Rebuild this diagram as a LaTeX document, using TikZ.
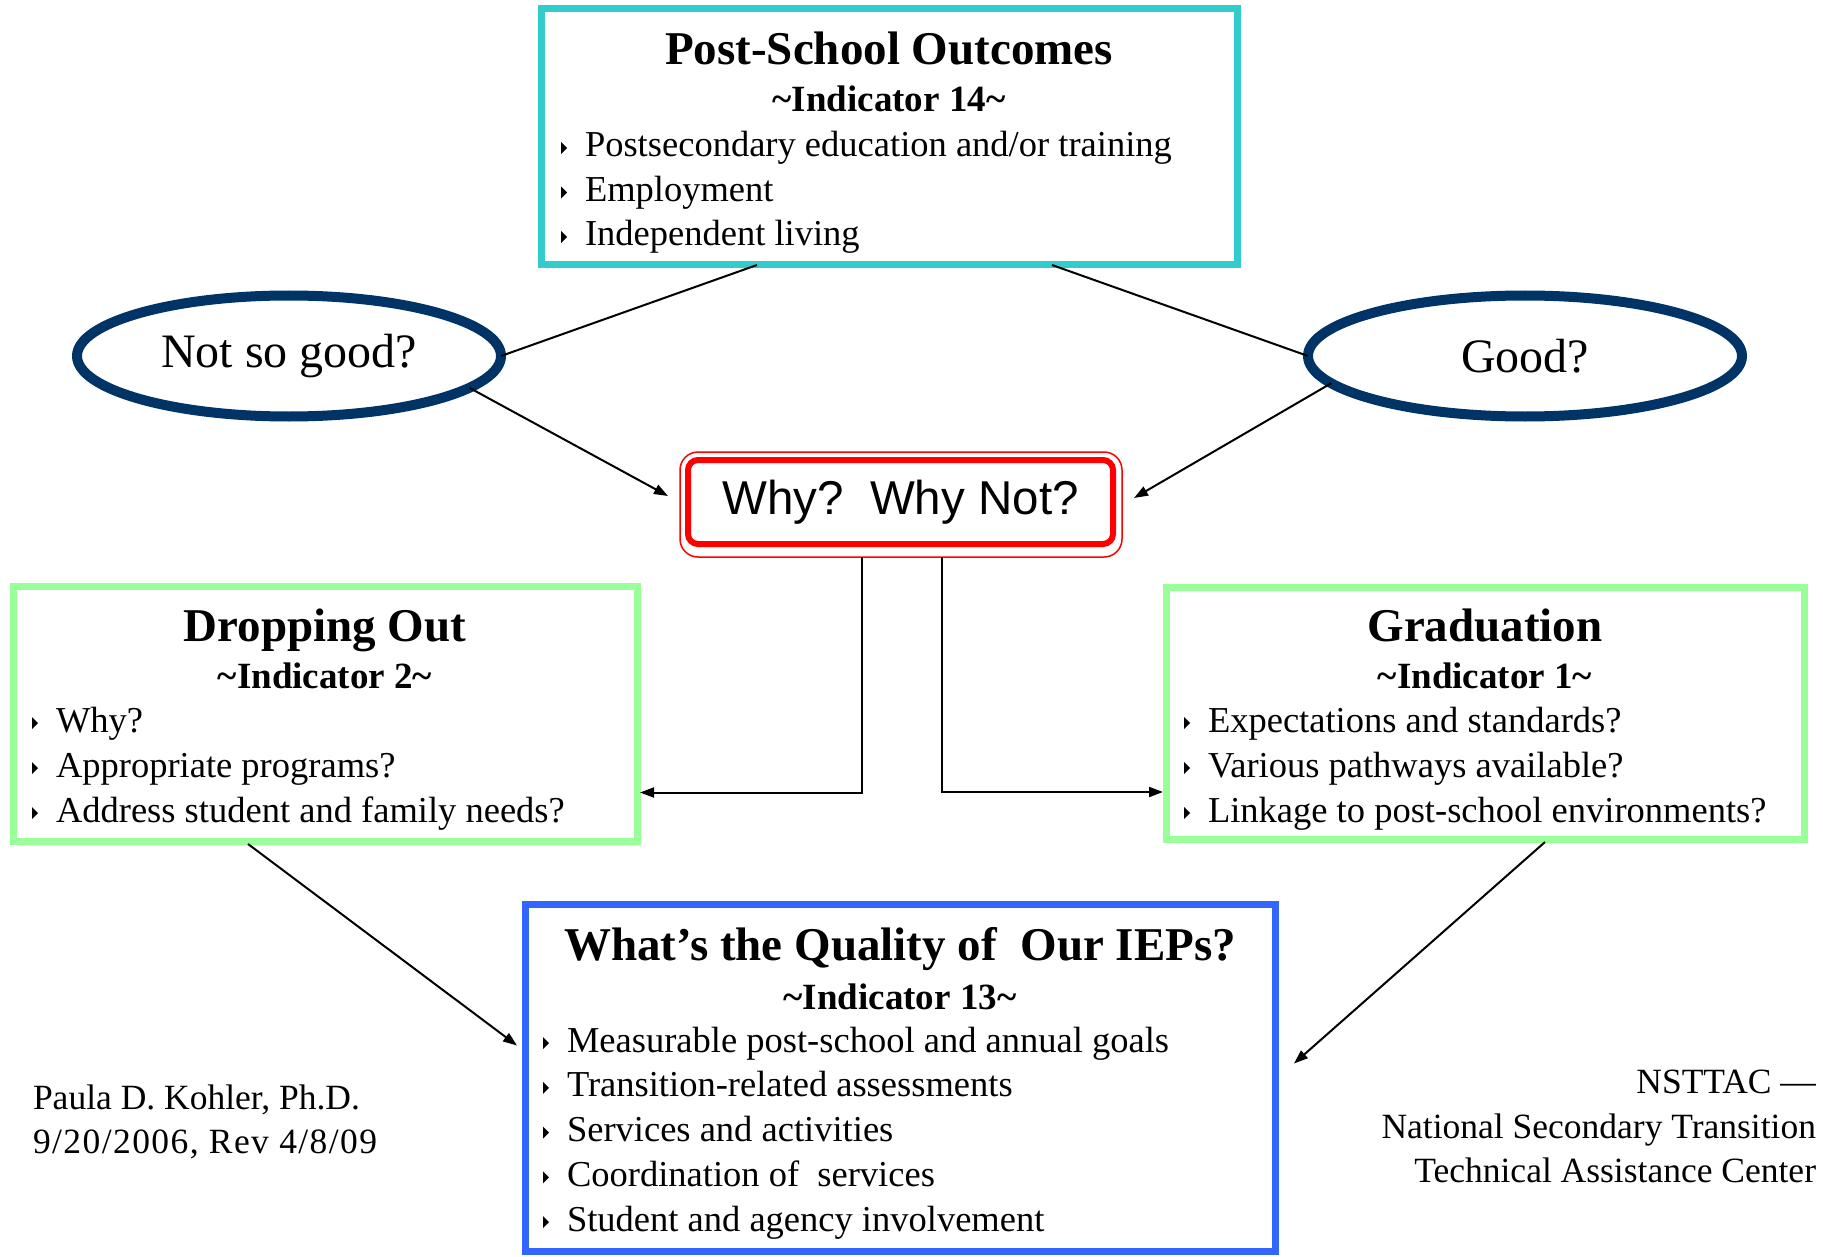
\documentclass[tikz,border=0pt]{standalone}
\usepackage{fontspec}
\setmainfont{Liberation Serif}
\newfontfamily\whyface{Liberation Sans}
\usetikzlibrary{shapes.geometric,arrows.meta}

\definecolor{outcomecyan}{HTML}{33CCCC}
\definecolor{indgreen}{HTML}{99FF99}
\definecolor{iepblue}{HTML}{3366FF}
\definecolor{ovalnavy}{HTML}{003366}
\definecolor{whyred}{HTML}{FF0000}

\newcommand\boxtitle{\fontsize{47}{56}\selectfont\bfseries}
\newcommand\boxindicator{\fontsize{37}{44}\selectfont\bfseries}
\newcommand\boxitem{\fontsize{36.5}{44}\selectfont}
\newcommand\ovalfont{\fontsize{48}{58}\selectfont}
\newcommand\notefont{\fontsize{35.5}{43}\selectfont}

\begin{document}
\frenchspacing
\begin{tikzpicture}[x=1pt,y=-1pt]
\tikzstyle{every node}+=[inner sep=0pt,outer sep=0pt]
\tikzstyle{frame}=[draw,line width=7pt]
\tikzstyle{oval}=[ellipse,draw=ovalnavy,line width=10pt]
\tikzstyle{link}=[line width=2pt]
\tikzstyle{arrow}=[line width=2pt,-{Triangle[length=14pt,width=10pt]}]
\useasboundingbox (0,0) rectangle (1823,1257);

\node[frame,draw=outcomecyan,minimum width=696pt,minimum height=256pt] (outcomes) at (889,137) {};
\node[anchor=base] (outcomes-title) at (889,65) {\boxtitle Post-School Outcomes};
\node[anchor=base] (outcomes-ind) at (889,112) {\boxindicator\textasciitilde Indicator 14\textasciitilde};
\foreach \t [count=\i] in {Postsecondary education and/or training,Employment,Independent living}{
\node[anchor=base west] (outcomes-\i) at (585,{157+(\i-1)*44.5}) {\boxitem \t};
\fill ([shift={(-24pt,3pt)}]outcomes-\i.base west) -- ++(0pt,12pt) -- ++(6pt,-6pt) -- cycle;
}

\node[oval,minimum width=424pt,minimum height=121pt] (notgood) at (289,356) {\ovalfont Not so good?};
\node[oval,minimum width=434pt,minimum height=121pt] (good) at (1525,356) {\ovalfont Good?};

\node[draw=whyred,line width=6pt,rounded corners=10pt,minimum width=425pt,minimum height=84pt] (why) at (900.5,502) {\whyface\fontsize{47.5}{57}\selectfont Why?~~Why Not?};
\draw[whyred,line width=1.5pt,rounded corners=18pt] ([shift={(-8pt,-13pt)}]why.south west) rectangle ([shift={(9pt,8pt)}]why.north east);

\node[frame,draw=indgreen,minimum width=624pt,minimum height=255pt] (dropping) at (325,713.5) {};
\node[anchor=base] (dropping-title) at (325,641) {\boxtitle Dropping Out};
\node[anchor=base] (dropping-ind) at (325,688) {\boxindicator\textasciitilde Indicator 2\textasciitilde};
\foreach \t [count=\i] in {Why?,Appropriate programs?,Address student and family needs?}{
\node[anchor=base west] (dropping-\i) at (56,{732+(\i-1)*45}) {\boxitem \t};
\fill ([shift={(-24pt,3pt)}]dropping-\i.base west) -- ++(0pt,12pt) -- ++(6pt,-6pt) -- cycle;
}

\node[frame,draw=indgreen,minimum width=638pt,minimum height=252pt] (graduation) at (1485,713) {};
\node[anchor=base] (graduation-title) at (1485,641) {\boxtitle Graduation};
\node[anchor=base] (graduation-ind) at (1485,688) {\boxindicator\textasciitilde Indicator 1\textasciitilde};
\foreach \t [count=\i] in {Expectations and standards?,Various pathways available?,Linkage to post-school environments?}{
\node[anchor=base west] (graduation-\i) at (1208,{732+(\i-1)*45}) {\boxitem \t};
\fill ([shift={(-24pt,3pt)}]graduation-\i.base west) -- ++(0pt,12pt) -- ++(6pt,-6pt) -- cycle;
}

\node[frame,draw=iepblue,minimum width=750pt,minimum height=347pt] (iep) at (900,1077.5) {};
\node[anchor=base] (iep-title) at (900,960) {\boxtitle What’s the Quality of~~Our IEPs?};
\node[anchor=base] (iep-ind) at (900,1009) {\boxindicator\textasciitilde Indicator 13\textasciitilde};
\foreach \t [count=\i] in {Measurable post-school and annual goals,Transition-related assessments,Services and activities,Coordination of~~services,Student and agency involvement}{
\node[anchor=base west] (iep-\i) at (567,{1052+(\i-1)*44.75}) {\boxitem \t};
\fill ([shift={(-24pt,3pt)}]iep-\i.base west) -- ++(0pt,12pt) -- ++(6pt,-6pt) -- cycle;
}

\node[anchor=base west] (author) at (33,1109) {\notefont Paula D. Kohler, Ph.D.};
\node[anchor=base west] (revision) at (33,1153) {\notefont\addfontfeatures{LetterSpace=4} 9/20/2006, Rev 4/8/09};
\node[anchor=base east] (center-1) at (1816,1093) {\notefont NSTTAC —};
\node[anchor=base east] (center-2) at (1816,1138) {\notefont National Secondary Transition};
\node[anchor=base east] (center-3) at (1816,1182) {\notefont Technical Assistance Center};

\draw[link] ([xshift=-132pt]outcomes.south) -- (notgood.east);
\draw[link] ([xshift=163pt]outcomes.south) -- (good.west);
\draw[arrow] (notgood.-10) -- ([shift={(-20pt,6pt)}]why.west);
\draw[arrow] (good.188) -- ([shift={(21pt,4pt)}]why.east);
\draw[arrow] ([shift={(-39pt,-13pt)}]why.south) |- ([shift={(3pt,-79pt)}]dropping.east);
\draw[arrow] ([shift={(41pt,-13pt)}]why.south) |- ([shift={(-3pt,-79pt)}]graduation.west);
\draw[arrow] ([shift={(-77pt,-3pt)}]dropping.south) -- ([shift={(-8pt,32pt)}]iep.west);
\draw[arrow] ([shift={(60pt,-3pt)}]graduation.south) -- ([shift={(19pt,14pt)}]iep.east);
\end{tikzpicture}
\end{document}
